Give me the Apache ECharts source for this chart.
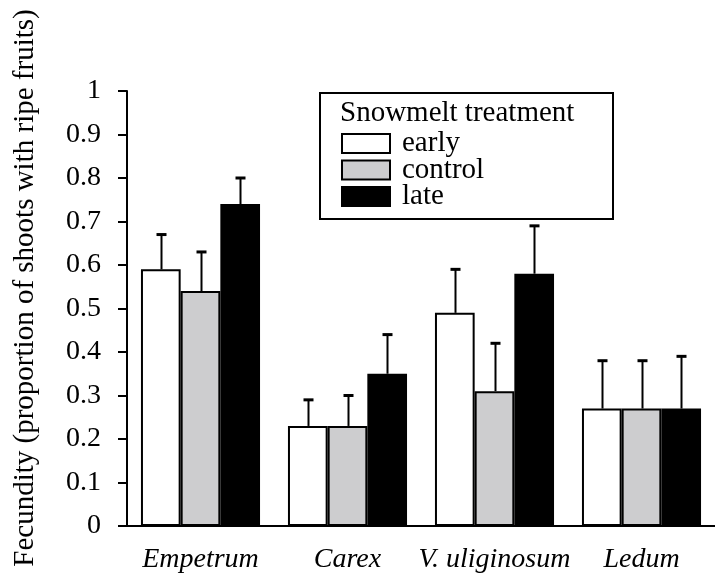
<!DOCTYPE html>
<html>
<head>
<meta charset="utf-8">
<script src="https://cdn.jsdelivr.net/npm/echarts@6/dist/echarts.min.js"></script>
<style>html,body{margin:0;padding:0;background:#fff;}#c{width:715px;height:574px;}</style>
</head>
<body>
<div id="c"></div>
<script>
const categories = ['Empetrum', 'Carex', 'V. uliginosum', 'Ledum'];
const seriesNames = ['early', 'control', 'late'];
const earlyVals = [0.59, 0.23, 0.49, 0.27];
const controlVals = [0.54, 0.23, 0.31, 0.27];
const lateVals = [0.74, 0.35, 0.58, 0.27];
const earlyErr = [0.08, 0.06, 0.10, 0.11];
const controlErr = [0.09, 0.07, 0.11, 0.11];
const lateErr = [0.06, 0.09, 0.11, 0.12];
const yTicks = [0, 0.1, 0.2, 0.3, 0.4, 0.5, 0.6, 0.7, 0.8, 0.9, 1];
const legendTitle = 'Snowmelt treatment';
const yTitle = 'Fecundity (proportion of shoots with ripe fruits)';

const values = [earlyVals, controlVals, lateVals];
const errs = [earlyErr, controlErr, lateErr];
const fills = ['#ffffff', '#cdcdcf', '#000000'];
const FONT = '"Liberation Serif", "Times New Roman", serif';
const BARW = 0.27;

const chart = echarts.init(document.getElementById('c'), null, {renderer: 'canvas'});

const barSeries = seriesNames.map((n, i) => ({
  name: n,
  type: 'bar',
  data: values[i],
  barWidth: (BARW * 100) + '%',
  barGap: '0%',
  itemStyle: {color: fills[i], borderColor: '#000', borderWidth: 2},
  emphasis: {disabled: true},
  z: 2
}));

const errSeries = seriesNames.map((n, i) => ({
  type: 'custom',
  name: n + '_err',
  data: values[i].map((v, k) => [k, v, v + errs[i][k]]),
  z: 1,
  silent: true,
  renderItem: function (params, api) {
    const band = api.size([1, 0])[0];
    const off = (i - 1) * BARW * band;
    const p0 = api.coord([api.value(0), api.value(1)]);
    const p1 = api.coord([api.value(0), api.value(2)]);
    const x = Math.round(p0[0] + off) + 0.5;
    const cap = 5;
    return {
      type: 'group',
      children: [
        {type: 'line', shape: {x1: x, y1: p0[1], x2: x, y2: p1[1]}, style: {stroke: '#000', lineWidth: 2}},
        {type: 'line', shape: {x1: x - cap, y1: p1[1], x2: x + cap, y2: p1[1]}, style: {stroke: '#000', lineWidth: 3}}
      ]
    };
  }
}));

const option = {
  animation: false,
  backgroundColor: '#fff',
  grid: {left: 127, right: -6, top: 91, bottom: 48, containLabel: false},
  xAxis: {
    type: 'category',
    data: categories,
    axisLine: {lineStyle: {color: '#000', width: 2}},
    axisTick: {show: false},
    axisLabel: {color: '#000', fontFamily: FONT, fontSize: 28, fontStyle: 'italic', margin: 20, interval: 0},
    splitLine: {show: false}
  },
  yAxis: {
    type: 'value',
    min: 0, max: 1, interval: 0.1,
    axisLine: {show: true, lineStyle: {color: '#000', width: 2}},
    axisTick: {show: true, length: 9, lineStyle: {color: '#000', width: 2}},
    axisLabel: {color: '#000', fontFamily: FONT, fontSize: 28, margin: 26,
      formatter: v => { const t = yTicks.find(x => Math.abs(x - v) < 1e-9); return t === undefined ? '' : String(t); }},
    splitLine: {show: false}
  },
  legend: {
    data: seriesNames,
    orient: 'vertical',
    left: 336, top: 124,
    itemWidth: 48, itemHeight: 19, itemGap: -2.5,
    icon: 'rect',
    textStyle: {color: '#000', fontFamily: FONT, fontSize: 29, lineHeight: 19, padding: [0, 0, 0, 7]},
    selectedMode: false
  },
  graphic: [
    {type: 'rect', shape: {x: 320, y: 93, width: 293, height: 126}, style: {fill: 'none', stroke: '#000', lineWidth: 2}, z: 10},
    {type: 'text', style: {text: legendTitle, x: 340, y: 113, fill: '#000', font: '29px ' + FONT, textVerticalAlign: 'middle'}, z: 10},
    {type: 'text', rotation: Math.PI / 2, x: 25, y: 288, style: {text: yTitle, fill: '#000', font: '29px ' + FONT, textAlign: 'center', textVerticalAlign: 'middle'}, z: 10}
  ],
  series: [...barSeries, ...errSeries]
};
chart.setOption(option);
</script>
</body>
</html>
